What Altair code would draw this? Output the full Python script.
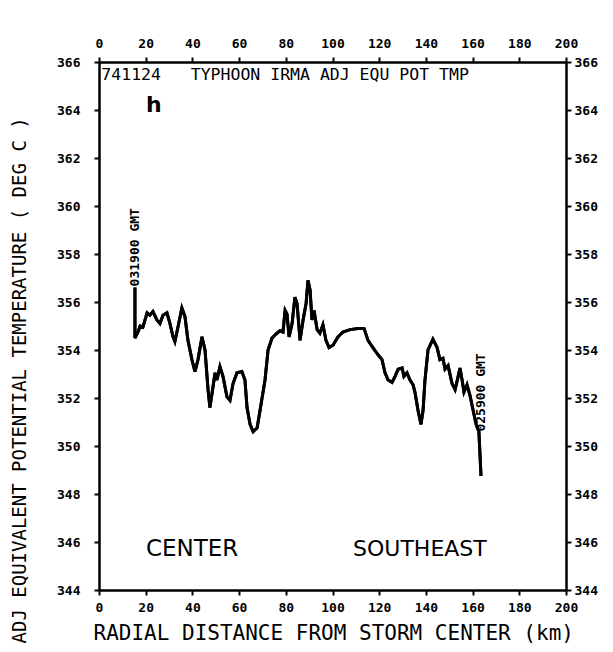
import altair as alt
import pandas as pd

# ---- data ----
km = [15.4, 15.4, 16.7, 17.6, 18.8, 20.6, 21.8, 23.1, 24.8, 26.1,
      27.4, 29.1, 30.4, 31.7, 32.5, 33.8, 35.5, 36.8, 38.1, 39.8,
      41.1, 42.4, 44.1, 45.4, 46.7, 47.5, 48.8, 49.7, 50.5, 51.8,
      53.1, 54.8, 56.1, 57.4, 59.1, 61.2, 62.5, 63.4, 64.7, 66.0,
      67.7, 69.0, 71.1, 72.4, 74.1, 76.2, 77.5, 78.8, 79.7, 80.5,
      81.4, 82.7, 83.9, 84.8, 86.1, 87.4, 88.7, 89.5, 90.4, 91.2,
      92.1, 93.4, 94.6, 95.9, 97.2, 98.5, 100.2, 102.4, 104.5, 107.5,
      110.9, 113.5, 115.2, 117.3, 119.5, 121.2, 122.5, 123.8, 125.5, 126.8,
      128.1, 129.8, 130.6, 131.9, 133.2, 134.5, 135.3, 136.6, 137.9, 138.8,
      139.6, 140.9, 143.0, 144.8, 146.0, 147.3, 148.2, 149.5, 151.2, 152.5,
      153.7, 154.6, 155.5, 156.3, 157.6, 158.9, 160.2, 161.5, 162.7, 163.6]
temp = [356.6, 354.5, 354.75, 355.0, 354.95, 355.55, 355.45, 355.6, 355.25, 355.1,
        355.45, 355.55, 355.1, 354.55, 354.35, 354.95, 355.75, 355.4, 354.4, 353.6,
        353.1, 353.6, 354.55, 354.0, 352.35, 351.6, 352.45, 353.05, 352.75, 353.3,
        352.9, 352.05, 351.9, 352.6, 353.05, 353.1, 352.75, 351.6, 350.9, 350.6,
        350.75, 351.5, 352.75, 354.0, 354.5, 354.7, 354.8, 354.75, 355.65, 355.5,
        354.55, 355.1, 356.2, 355.95, 354.4, 355.25, 355.95, 356.9, 356.5, 355.25,
        355.65, 354.85, 354.7, 355.05, 354.4, 354.1, 354.2, 354.55, 354.75, 354.85,
        354.9, 354.9, 354.4, 354.1, 353.8, 353.6, 353.05, 352.75, 352.65, 352.9,
        353.2, 353.25, 352.9, 353.05, 352.75, 352.55, 352.25, 351.5, 350.9, 351.5,
        352.75, 354.0, 354.45, 354.1, 353.6, 353.65, 353.2, 353.35, 352.6, 352.35,
        352.85, 353.25, 352.75, 352.25, 352.55, 352.1, 351.5, 350.9, 350.6, 348.75]

x_ticks = [0, 20, 40, 60, 80, 100, 120, 140, 160, 180, 200]
y_ticks = [344, 346, 348, 350, 352, 354, 356, 358, 360, 362, 364, 366]

title_text = "741124\u00a0\u00a0\u00a0TYPHOON IRMA ADJ EQU POT TMP"
x_title = "RADIAL DISTANCE FROM STORM CENTER (km)"
y_title = "ADJ EQUIVALENT POTENTIAL TEMPERATURE ( DEG C )"
start_label = "031900 GMT"
end_label = "025900 GMT"
panel_letter = "h"
left_region = "CENTER"
right_region = "SOUTHEAST"

df = pd.DataFrame({"km": km, "temp": temp, "i": list(range(len(km)))})

MONO = "DejaVu Sans Mono"
xs = alt.Scale(domain=[0, 200], nice=False, zero=False)
ys = alt.Scale(domain=[344, 366], nice=False, zero=False)

axis_common = dict(
    grid=False, domainColor="black", domainWidth=2.5, tickColor="black",
    tickWidth=2, tickSize=5, labelFont=MONO, labelFontWeight="bold",
    labelFontSize=13, labelColor="black", labelFlush=False, labelOverlap=False,
)

line_bottom = alt.Chart(df).mark_line(color="black", strokeWidth=3).encode(
    x=alt.X("km:Q", scale=xs, axis=alt.Axis(
        orient="bottom", values=x_ticks, labelPadding=6, title=x_title,
        titleFont=MONO, titleFontSize=21, titleFontWeight="normal",
        titleColor="black", titleX=-6, titleY=43, titleAlign="left",
        titleBaseline="middle", titleAnchor="start", **axis_common)),
    y=alt.Y("temp:Q", scale=ys, axis=alt.Axis(
        orient="left", values=y_ticks, labelPadding=14, title=y_title,
        titleFont=MONO, titleFontSize=19, titleFontWeight="normal",
        titleColor="black", titleAngle=270, titleX=-80, titleY=581,
        titleAlign="left", titleBaseline="middle", titleAnchor="start",
        **axis_common)),
    order="i:Q",
)

line_top = alt.Chart(df).mark_line(color="black", strokeWidth=3).encode(
    x=alt.X("km:Q", scale=xs, axis=alt.Axis(
        orient="top", values=x_ticks, labelPadding=7, title=None, **axis_common)),
    y=alt.Y("temp:Q", scale=ys, axis=alt.Axis(
        orient="right", values=y_ticks, labelPadding=3, title=None, **axis_common)),
    order="i:Q",
)


def text_layer(xv, yv, txt, **kw):
    d = pd.DataFrame({"x": [xv], "y": [yv], "t": [txt]})
    return alt.Chart(d).mark_text(color="black", **kw).encode(
        x=alt.X("x:Q", scale=xs, axis=None),
        y=alt.Y("y:Q", scale=ys, axis=None),
        text="t:N",
    )


title_l = text_layer(1.0, 365.45, title_text, font=MONO, fontSize=16.5,
                     align="left", baseline="middle")
letter_l = text_layer(23.5, 364.2, panel_letter, font="DejaVu Sans",
                      fontSize=22, fontWeight="bold", align="center",
                      baseline="middle")
center_l = text_layer(20.1, 345.7, left_region, font="DejaVu Sans",
                      fontSize=23, align="left", baseline="middle")
se_l = text_layer(108.8, 345.7, right_region, font="DejaVu Sans",
                  fontSize=22, align="left", baseline="middle")
start_l = text_layer(15.4, 356.65, start_label, font=MONO, fontSize=13,
                     fontWeight="bold", angle=270, align="left",
                     baseline="middle")
end_l = text_layer(163.4, 350.6, end_label, font=MONO, fontSize=13,
                   fontWeight="bold", angle=270, align="left",
                   baseline="middle")

chart = alt.layer(
    line_bottom, line_top, title_l, letter_l, center_l, se_l, start_l, end_l
).properties(
    width=467, height=528,
    autosize=alt.AutoSizeParams(type="none"),
    padding={"left": 91, "top": 54, "right": 39, "bottom": 54},
).configure_view(stroke=None).configure(background="white")

chart.save("out.html", embed_options={"renderer": "svg", "actions": False})
